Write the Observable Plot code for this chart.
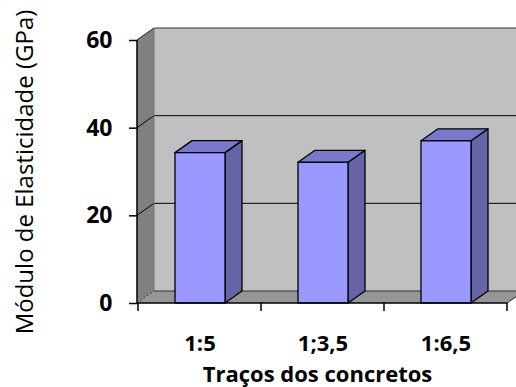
<!DOCTYPE html>
<html><head><meta charset="utf-8">
<script src="https://cdn.jsdelivr.net/npm/d3@7"></script>
<script src="https://cdn.jsdelivr.net/npm/@observablehq/plot@0.6"></script>
<style>html,body{margin:0;padding:0;background:#fff} svg{display:block}</style>
</head><body><div id="chart"></div>
<script>
const categories = ["1:5", "1;3,5", "1:6,5"];
const values = [34.3, 32.1, 37.0];
const yTicks = [0, 20, 40, 60];
const yLabel = "Módulo de Elasticidade (GPa)";
const xLabel = "Traços dos concretos";

const data = categories.map((c, i) => ({cat: c, value: values[i]}));
const DX = 17, DY = -12;
const FONT = "'Open Sans', Lato, sans-serif";
const IN_L = 37, IN_R = 36;

function bw(x, dim) {
  return x.bandwidth ? x.bandwidth() : (dim.width - dim.marginLeft - dim.marginRight) / categories.length;
}
function addPoly(g, pts, fill, stroke, sw, dash) {
  const p = g.append("polygon").attr("points", pts.map(d => d.join(",")).join(" "))
    .attr("fill", fill).attr("stroke", stroke || "none").attr("stroke-width", sw || 1)
    .attr("stroke-linejoin", "round");
  if (dash) p.attr("stroke-dasharray", dash);
  return p;
}
function addLine(g, pts, stroke, sw, dash) {
  const p = g.append("polyline").attr("points", pts.map(d => d.join(",")).join(" "))
    .attr("fill", "none").attr("stroke", stroke).attr("stroke-width", sw || 1);
  if (dash) p.attr("stroke-dasharray", dash);
  return p;
}

function scene(index, scales, vals, dim) {
  const {y} = scales;
  const x0 = dim.marginLeft, x1 = dim.width - dim.marginRight;
  const Y0 = y(0), Yt = y(yTicks[yTicks.length - 1]);
  const g = d3.create("svg:g");
  addPoly(g, [[x0 + DX, Yt + DY], [x1 + DX + 20, Yt + DY], [x1 + DX + 20, Y0 + DY], [x0 + DX, Y0 + DY]], "#c0c0c0");
  addPoly(g, [[x0, Y0], [x0, Yt], [x0 + DX, Yt + DY], [x0 + DX, Y0 + DY]], "#808080");
  addPoly(g, [[x0, Y0], [x0 + DX, Y0 + DY], [x1 + DX, Y0 + DY], [x1, Y0]], "#969696");
  for (const t of yTicks) {
    if (t === 0) continue;
    addLine(g, [[x0, y(t)], [x0 + DX, y(t) + DY], [x1 + DX + 20, y(t) + DY]], t === 60 ? "#333" : "#000", 1);
  }
  addLine(g, [[x0 + DX, Y0 + DY], [x1 + DX + 20, Y0 + DY]], "#333", 1);
  addLine(g, [[x0, Y0], [x0 + DX, Y0 + DY]], "#333", 1, "2,2");
  addLine(g, [[x1, Y0], [x1 + DX, Y0 + DY]], "#222", 1);
  addLine(g, [[x0, Yt], [x0 + DX, Yt + DY]], "#444", 1);
  addLine(g, [[x0 + DX, Yt + DY], [x0 + DX, Y0 + DY]], "#777", 1);
  return g.node();
}

function barSides(index, scales, vals, dim) {
  const {x, y} = scales;
  const w = bw(x, dim);
  const Y0 = y(0);
  const g = d3.create("svg:g");
  for (const d of data) {
    const bx0 = x(d.cat) + IN_L, bx1 = x(d.cat) + w - IN_R, top = y(d.value);
    addPoly(g, [[bx1, top], [bx1 + DX, top + DY], [bx1 + DX, Y0 + DY], [bx1, Y0]], "#6464a6", "#000", 1.3);
    addPoly(g, [[bx0, top], [bx0 + DX, top + DY], [bx1 + DX, top + DY], [bx1, top]], "#7878cc", "#000", 1.3);
  }
  return g.node();
}

function frontAxes(index, scales, vals, dim) {
  const {x, y} = scales;
  const w = bw(x, dim);
  const x0 = dim.marginLeft, x1 = dim.width - dim.marginRight;
  const Y0 = y(0), Yt = y(yTicks[yTicks.length - 1]);
  const g = d3.create("svg:g");
  addLine(g, [[x0, Yt], [x0, Y0], [x1, Y0]], "#000", 1.5);
  const bounds = categories.map(c => x(c)).concat([x(categories[categories.length - 1]) + w]);
  for (const b of bounds) addLine(g, [[b, Y0], [b, Y0 + 8]], "#000", 1.5);
  return g.node();
}

const chart = Plot.plot({
  width: 516,
  height: 387,
  marginLeft: 137,
  marginRight: 9,
  marginTop: 40,
  marginBottom: 84,
  style: {fontFamily: FONT, background: "#fff"},
  x: {domain: categories, padding: 0, label: null},
  y: {domain: [0, 60], label: null},
  marks: [
    scene,
    barSides,
    Plot.barY(data, {x: "cat", y: "value", fill: "#9999ff", stroke: "#000", strokeWidth: 1.3, insetLeft: IN_L, insetRight: IN_R}),
    frontAxes,
    Plot.axisY(yTicks, {tickSize: 8, tickPadding: 17, strokeWidth: 1.5, fontSize: 23, fontWeight: "bold", fill: "#000", label: null}),
    Plot.axisX({tickSize: 0, tickPadding: 32, fontSize: 22, fontWeight: "bold", fill: "#000", label: null}),
    Plot.text([xLabel], {frameAnchor: "bottom", dx: -5, dy: 71, text: d => d, fontSize: 22, fontWeight: "bold", fill: "#000", lineAnchor: "middle"}),
    Plot.text([yLabel], {frameAnchor: "left", dx: -112, rotate: -90, text: d => d, fontSize: 24, fill: "#000", textAnchor: "middle", lineAnchor: "middle"})
  ]
});
document.getElementById("chart").appendChild(chart);
</script>
</body></html>
